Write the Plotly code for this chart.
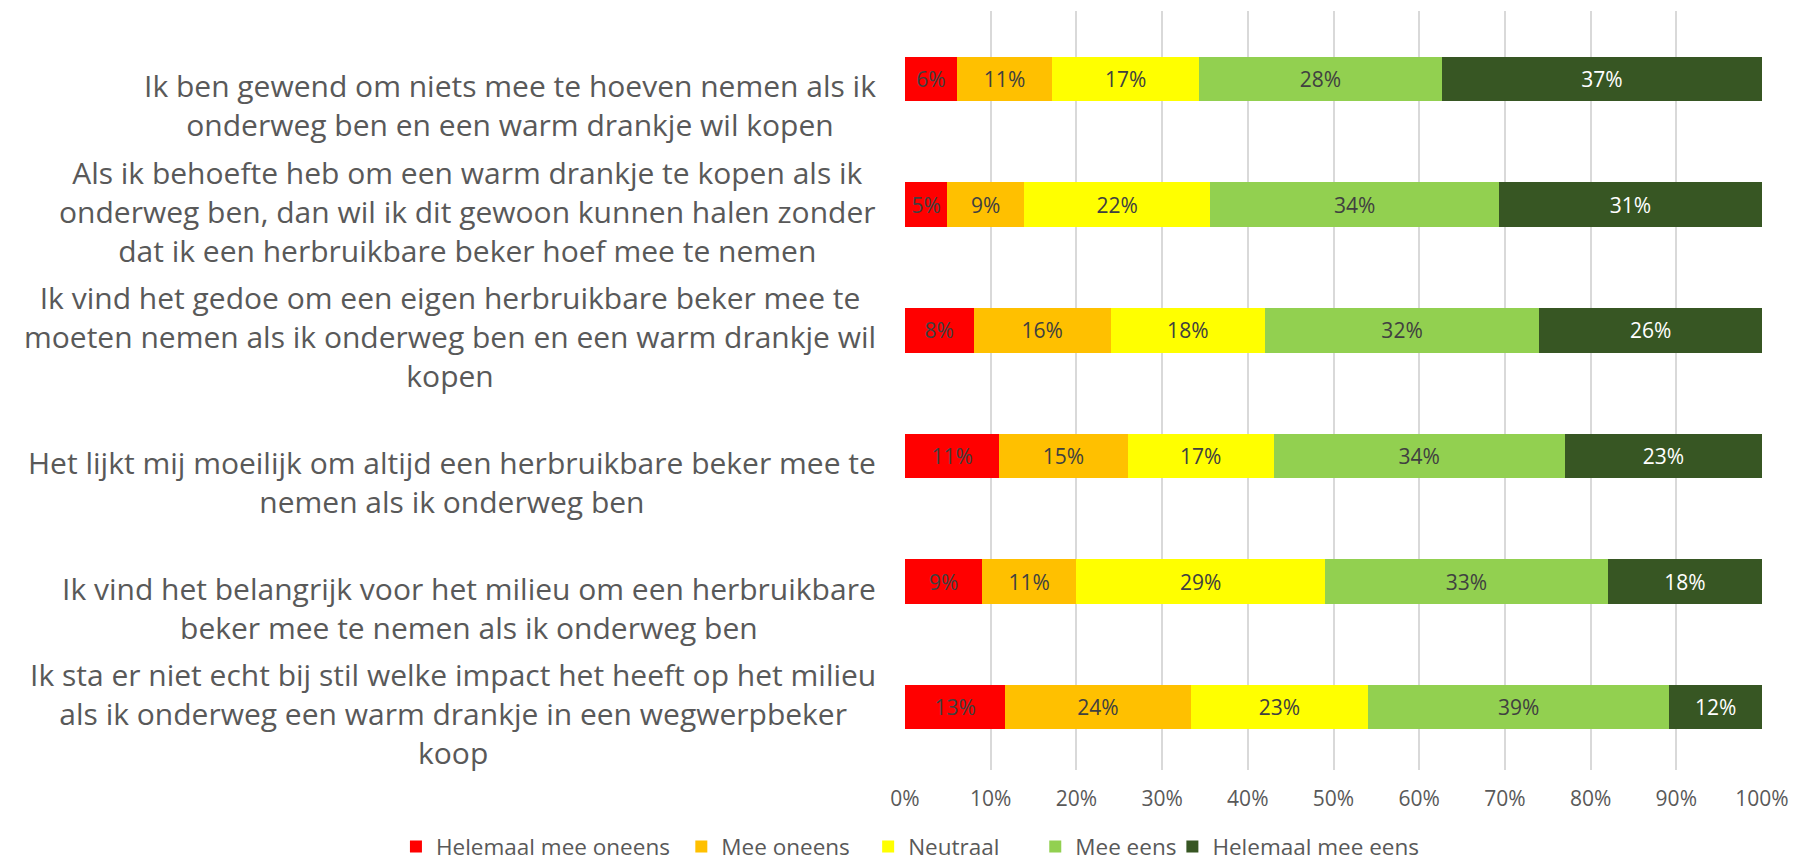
import plotly.graph_objects as go

categories = [
    "Ik ben gewend om niets mee te hoeven nemen als ik<br>onderweg ben en een warm drankje wil kopen",
    "Als ik behoefte heb om een warm drankje te kopen als ik<br>onderweg ben, dan wil ik dit gewoon kunnen halen zonder<br>dat ik een herbruikbare beker hoef mee te nemen",
    "Ik vind het gedoe om een eigen herbruikbare beker mee te<br>moeten nemen als ik onderweg ben en een warm drankje wil<br>kopen",
    "Het lijkt mij moeilijk om altijd een herbruikbare beker mee te<br>nemen als ik onderweg ben",
    "Ik vind het belangrijk voor het milieu om een herbruikbare<br>beker mee te nemen als ik onderweg ben",
    "Ik sta er niet echt bij stil welke impact het heeft op het milieu<br>als ik onderweg een warm drankje in een wegwerpbeker<br>koop",
]
cat_ids = ["q1", "q2", "q3", "q4", "q5", "q6"]

series_names = ["Helemaal mee oneens", "Mee oneens", "Neutraal", "Mee eens", "Helemaal mee eens"]
helemaal_oneens = [6, 5, 8, 11, 9, 13]
mee_oneens = [11, 9, 16, 15, 11, 24]
neutraal = [17, 22, 18, 17, 29, 23]
mee_eens = [28, 34, 32, 34, 33, 39]
helemaal_eens = [37, 31, 26, 23, 18, 12]
series_values = [helemaal_oneens, mee_oneens, neutraal, mee_eens, helemaal_eens]

colors = ["#FF0000", "#FFC000", "#FFFF00", "#92D050", "#375623"]
text_colors = ["#404040", "#404040", "#404040", "#404040", "#FFFFFF"]

x_ticks = list(range(0, 101, 10))
x_ticklabels = [f"{t}%" for t in x_ticks]

# horizontal positions (paper fraction) of each legend entry
legend_x = [-0.594, -0.261, -0.043, 0.152, 0.312]
legend_ids = ["legend", "legend2", "legend3", "legend4", "legend5"]

FONT = "Open Sans"

fig = go.Figure()
for name, vals, col, tcol, lid in zip(series_names, series_values, colors, text_colors, legend_ids):
    fig.add_trace(go.Bar(
        y=cat_ids, x=vals, name=name, orientation="h",
        marker=dict(color=col, line=dict(width=0)),
        text=[f"{v}%" for v in vals], textposition="inside",
        insidetextanchor="middle", textangle=0,
        textfont=dict(family=FONT, size=21, color=tcol),
        hoverinfo="skip", legend=lid,
    ))

for cid, label in zip(cat_ids, categories):
    fig.add_annotation(
        x=0, xref="paper", y=cid, yref="y", xanchor="right", yanchor="bottom",
        xshift=-27, yshift=-68,
        text=label, align="center", showarrow=False,
        font=dict(family=FONT, size=30, color="#595959"),
    )

legend_style = dict(
    orientation="h", xref="paper", yref="paper",
    xanchor="left", y=-0.1014, yanchor="middle",
    font=dict(family=FONT, size=22.5, color="#595959"),
    itemwidth=30, bgcolor="rgba(0,0,0,0)",
)
legends = {lid: dict(legend_style, x=lx) for lid, lx in zip(legend_ids, legend_x)}

# the page body adds an 8px offset, so the figure is sized to fit the window
fig.update_layout(
    barmode="stack", barnorm="percent", bargap=0.645,
    width=1793, height=855,
    margin=dict(l=897, r=39, t=3, b=93, autoexpand=False),
    paper_bgcolor="white", plot_bgcolor="white",
    font=dict(family=FONT, color="#595959"),
    uniformtext=dict(minsize=21, mode="show"),
    showlegend=True,
    **legends,
)
fig.update_xaxes(
    range=[0, 100], tickvals=x_ticks, ticktext=x_ticklabels,
    showgrid=True, gridcolor="#D9D9D9", gridwidth=1.5,
    zeroline=False, showline=False,
    ticks="outside", ticklen=10, tickcolor="rgba(0,0,0,0)",
    tickfont=dict(family=FONT, size=21, color="#595959"),
)
fig.update_yaxes(
    categoryorder="array", categoryarray=cat_ids, autorange="reversed",
    showticklabels=False, showgrid=False, zeroline=False, showline=False,
)

fig.write_html("out.html")
